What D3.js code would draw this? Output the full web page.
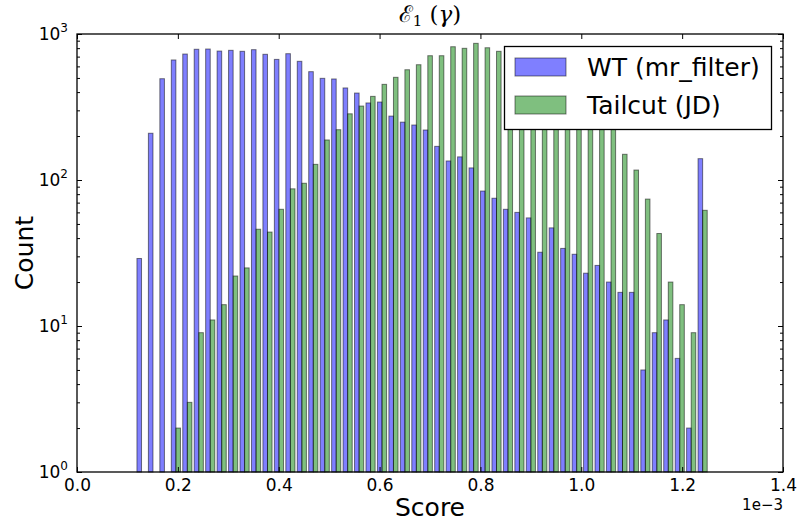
<!DOCTYPE html>
<html>
<head>
<meta charset="utf-8">
<script src="https://cdn.jsdelivr.net/npm/d3@7"></script>
<style>
  body { margin: 0; background: #fff; }
  text { font-family: "DejaVu Sans", sans-serif; }
</style>
</head>
<body>
<div id="chart"></div>
<script>
// histogram, 50 bins, score in units of 1e-3
const scoreMin = 0.1166,
      scoreMax = 1.2520,
      nBins = 50;

const wtCounts = [29, 209, 494, 664, 729, 786, 789, 764, 773, 761,
    781, 726, 670, 733, 650, 552, 497, 492, 427, 394,
    337, 342, 274, 249, 238, 220, 170, 135, 144, 121,
    84, 75, 63, 60, 55, 32, 47, 34, 31, 23,
    26, 20, 17, 17, 5, 9, 11, 6, 2, 140];

const tailcutCounts = [0, 0, 0, 2, 3, 9, 11, 14, 22, 25,
    46, 44, 63, 87, 95, 128, 188, 221, 284, 321,
    374, 452, 505, 569, 616, 710, 710, 818, 798, 863,
    805, 761, 720, 650, 600, 540, 470, 420, 360, 310,
    270, 240, 150, 117, 74, 43, 20, 14, 9, 62];

const seriesNames = ["WT (mr_filter)", "Tailcut (JD)"];
const xTicks = [0.0, 0.2, 0.4, 0.6, 0.8, 1.0, 1.2, 1.4];
const yTicks = [1, 10, 100, 1000];

const width = 801, height = 523,
    margin = ({top: 34, right: 18, bottom: 51, left: 77});

const colors = ["#0000ff", "#008000"];

const svg = d3.select("#chart")
    .append("svg")
    .attr("width", width)
    .attr("height", height);

const x = d3.scaleLinear()
    .domain([0, 1.4])
    .range([margin.left, width - margin.right]);

const y = d3.scaleLog()
    .domain([1, 1000])
    .range([height - margin.bottom, margin.top]);

const binW = (scoreMax - scoreMin) / nBins;

// matplotlib side-by-side bars: rwidth 0.8 split between the two datasets
let bars = [];
[wtCounts, tailcutCounts].forEach((counts, s) => {
    counts.forEach((c, i) => {
        if (c <= 0) return;
        let left = scoreMin + i * binW + 0.1 * binW + s * 0.4 * binW;
        bars.push({s: s, x0: left, x1: left + 0.4 * binW, count: c});
    });
});

svg.append("g")
    .selectAll("rect")
    .data(bars)
    .join("rect")
        .attr("x", d => x(d.x0))
        .attr("width", d => x(d.x1) - x(d.x0))
        .attr("y", d => y(d.count))
        .attr("height", d => y(1) - y(d.count))
        .attr("fill", d => colors[d.s])
        .attr("fill-opacity", 0.5)
        .attr("stroke", "#000")
        .attr("stroke-opacity", 0.5)
        .attr("stroke-width", 1);

// x axes (bottom with labels, top ticks only), ticks pointing inward
svg.append("g")
    .attr("transform", `translate(0,${height - margin.bottom})`)
    .call(d3.axisBottom(x).tickValues(xTicks).tickSize(-5).tickSizeOuter(0)
        .tickPadding(7).tickFormat(d3.format(".1f")))
    .call(g => g.select(".domain").remove())
    .call(g => g.selectAll("text").attr("font-size", 17).attr("font-family", "DejaVu Sans").attr("fill", "#000"));

svg.append("g")
    .attr("transform", `translate(0,${margin.top})`)
    .call(d3.axisTop(x).tickValues(xTicks).tickSize(-5).tickSizeOuter(0).tickFormat(""))
    .call(g => g.select(".domain").remove());

// y axes: major + minor ticks on both sides
const minor = y.ticks().filter(v => !yTicks.includes(v));
[[d3.axisLeft, margin.left], [d3.axisRight, width - margin.right]].forEach(([ax, pos]) => {
    svg.append("g")
        .attr("transform", `translate(${pos},0)`)
        .call(ax(y).tickValues(yTicks).tickSize(-5).tickSizeOuter(0).tickFormat(""))
        .call(g => g.select(".domain").remove());
    svg.append("g")
        .attr("transform", `translate(${pos},0)`)
        .call(ax(y).tickValues(minor).tickSize(-3).tickSizeOuter(0).tickFormat(""))
        .call(g => g.select(".domain").remove());
});

// y tick labels as 10^n
const yl = svg.append("g").selectAll("text")
    .data(yTicks)
    .join("text")
        .attr("text-anchor", "end")
        .attr("x", margin.left - 9)
        .attr("y", d => y(d) + 6)
        .attr("font-size", 17);
yl.append("tspan").text("10");
yl.append("tspan").attr("font-size", 12).attr("dy", -8).text(d => Math.round(Math.log10(d)));

// frame
svg.append("rect")
    .attr("x", margin.left)
    .attr("y", margin.top)
    .attr("width", width - margin.left - margin.right)
    .attr("height", height - margin.top - margin.bottom)
    .attr("fill", "none")
    .attr("stroke", "#000")
    .attr("stroke-width", 1.3);

// offset text
svg.append("text")
    .attr("x", width - margin.right)
    .attr("y", 510)
    .attr("text-anchor", "end")
    .attr("font-size", 15)
    .text("1e\u22123");

// axis labels
svg.append("text")
    .attr("x", (margin.left + width - margin.right) / 2)
    .attr("y", 516)
    .attr("text-anchor", "middle")
    .attr("font-size", 25)
    .text("Score");

svg.append("text")
    .attr("transform", `translate(33,${(margin.top + height - margin.bottom) / 2}) rotate(-90)`)
    .attr("text-anchor", "middle")
    .attr("font-size", 25)
    .text("Count");

// title
const title = svg.append("text")
    .attr("x", (margin.left + width - margin.right) / 2)
    .attr("y", 22)
    .attr("text-anchor", "middle")
    .attr("font-size", 23)
    .style("font-family", "DejaVu Serif, serif");
title.append("tspan").text("\u2130");
title.append("tspan").attr("font-size", 15).attr("dy", 4).text("1");
title.append("tspan").attr("dy", -4).text(" (");
title.append("tspan").attr("font-style", "italic").text("\u03b3");
title.append("tspan").text(")");

// legend
const legend = svg.append("g");
legend.append("rect")
    .attr("x", 504.5).attr("y", 46.5)
    .attr("width", 267).attr("height", 83)
    .attr("fill", "#fff")
    .attr("stroke", "#000")
    .attr("stroke-width", 1.3);

seriesNames.forEach((name, i) => {
    let cy = 67 + i * 38;
    legend.append("rect")
        .attr("x", 515).attr("y", cy - 9)
        .attr("width", 51).attr("height", 18)
        .attr("fill", colors[i]).attr("fill-opacity", 0.5)
        .attr("stroke", "#000").attr("stroke-opacity", 0.5);
    legend.append("text")
        .attr("x", 587).attr("y", cy)
        .attr("dy", "0.36em")
        .attr("font-size", 25)
        .text(name);
});
</script>
</body>
</html>
